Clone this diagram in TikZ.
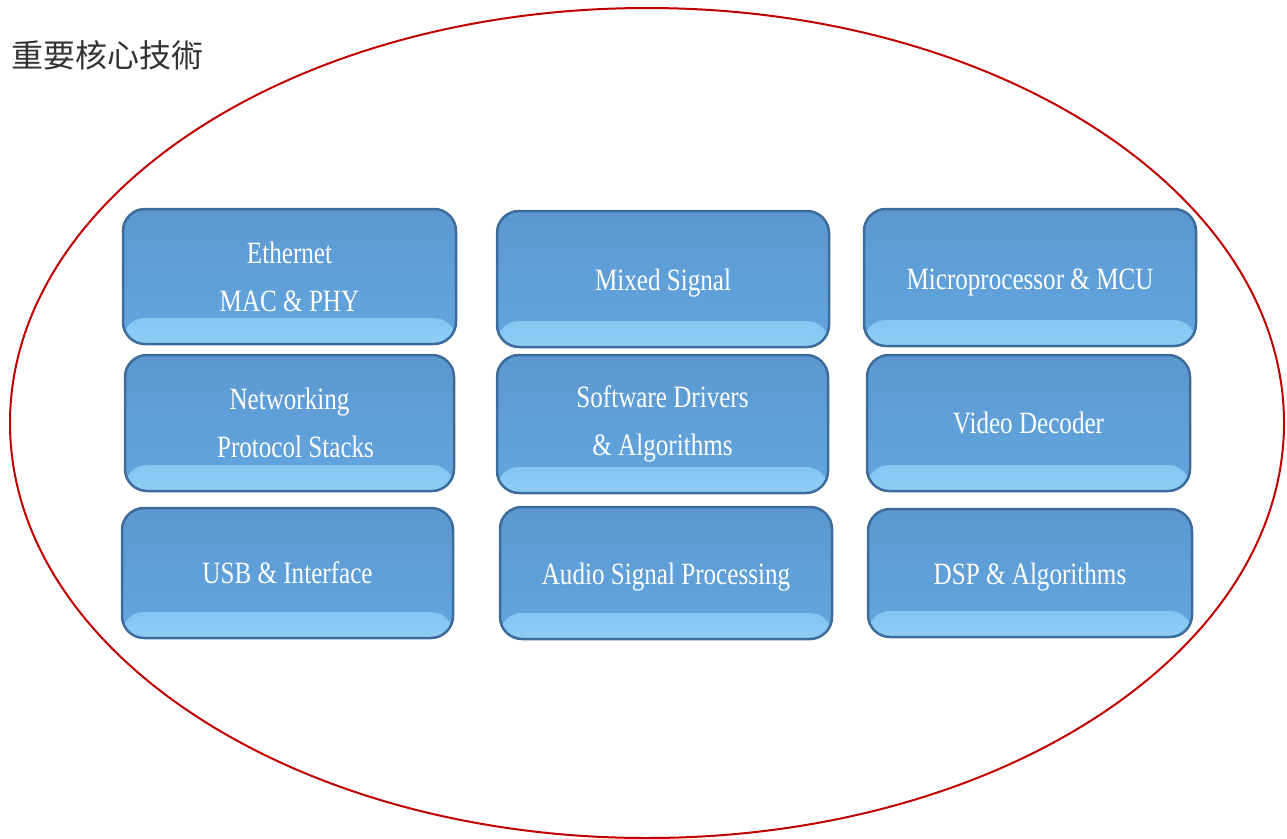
\documentclass[tikz,border=0pt]{standalone}
\usepackage{fontspec}
\setmainfont{Liberation Serif}
\newfontfamily\boxfont[FakeStretch=0.81]{Liberation Serif}
\newfontfamily\cjk{Noto Sans CJK TC}
\usetikzlibrary{shapes}

\definecolor{ringred}{HTML}{C00000}
\definecolor{boxedge}{HTML}{3E6C9A}
\definecolor{boxtop}{HTML}{5C98D0}
\definecolor{boxmain}{HTML}{63A6E0}
\definecolor{boxlight}{HTML}{8DCDF5}
\definecolor{titlegray}{HTML}{333333}

\begin{document}
\begin{tikzpicture}[x=1pt,y=-1pt,
    techbox/.style={draw=boxedge, line width=2.5pt, rounded corners=22pt,
      top color=boxtop, bottom color=boxmain, text=white, align=center,
      font=\boxfont\fontsize{31}{48}\selectfont, inner sep=0pt,
      path picture={\shade[top color=boxmain, bottom color=boxlight]
        ([yshift=26pt]path picture bounding box.south west) rectangle
        (path picture bounding box.south east);}},
    lower/.style={text height=30pt}]
        \useasboundingbox (0,0) rectangle (1287,838);

        \draw[ringred, line width=2pt] (647,423) ellipse [x radius=637pt, y radius=415pt];
        \node[anchor=west, text=titlegray, font=\cjk\fontsize{32}{36}\selectfont] (title) at (8,55) {重要核心技術};

        \node[techbox, minimum width=333pt, minimum height=135pt] (eth) at (289.5,276.5) {Ethernet\\MAC \& PHY};
        \node[techbox, lower, minimum width=332pt, minimum height=136pt] (mixed) at (663,279) {Mixed Signal};
        \node[techbox, lower, minimum width=332pt, minimum height=137pt] (mcu) at (1030,277.5) {Microprocessor \& MCU};

        \node[techbox, minimum width=329pt, minimum height=136pt] (net) at (289.5,423) {Networking\\\hspace*{12pt}Protocol Stacks};
        \node[techbox, minimum width=331pt, minimum height=138pt] (sw) at (662.5,424) {Software Drivers\\\& Algorithms};
        \node[techbox, minimum width=323pt, minimum height=136pt] (video) at (1028.5,423) {Video Decoder};

        \node[techbox, minimum width=331pt, minimum height=130pt] (usb) at (287.5,573) {USB \& Interface};
        \node[techbox, lower, minimum width=332pt, minimum height=132pt] (audio) at (666,573) {Audio Signal Processing};
        \node[techbox, lower, minimum width=324pt, minimum height=128pt] (dsp) at (1030,573) {DSP \& Algorithms};
      \end{tikzpicture}
\end{document}
